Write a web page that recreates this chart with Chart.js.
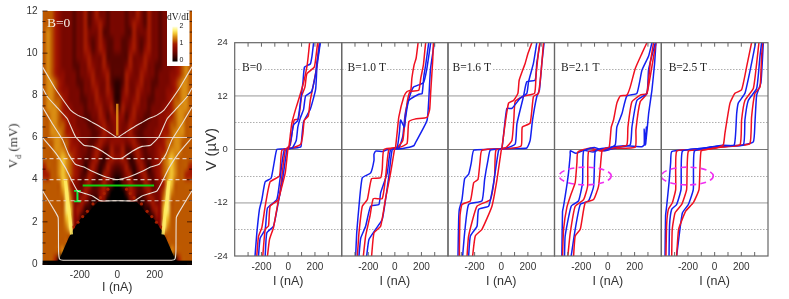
<!DOCTYPE html>
<html><head><meta charset="utf-8">
<script src="https://cdn.jsdelivr.net/npm/chart.js@4"></script>
<style>
html,body{margin:0;padding:0;background:#fff;width:789px;height:299px;overflow:hidden}
canvas{position:absolute;left:0;top:0}
.t{position:absolute;white-space:nowrap;color:#333;transform-origin:center center}
</style></head><body>
<div id="root"></div>
<script>
/* ---------- colour map panel (left) ---------- */
const heatLevels = ['#000000','#300100','#580400','#780700','#8e0c00','#a41a00','#bc5800','#d88a12','#f2c634','#fff27a','#ffffe8'];
/* half of the map (I = 10,30,...390 nA), rows from V = 11.8 down to 0.2 mV; mirrored about I = 0 */
const heatRows = [
"33233532533233345666","33235432533233345666","33225333533233345676","32235323533233345676",
"32245324533233345676","22253335433233345676","22353345332233345676","22543354332333445676",
"12533453322333456776","13533543323334456776","14434533223334566776","25335433233344567776",
"44245332233445567766","43354322333445667766","43453223334455677766","44345322334456677666",
"35224532334556777666","45312542234567876666","23521353134567876665","12451245224567876655",
"02353225423458866666","00254223533469766666","00034112453479666666","00000301145489666666",
"00000003114488666666","00000000032497666666","00000000002266666666","00000000000016666666",
"00000000000000766666","00000000000000005666"];
const gapEdgeI = [-318,-304,-260,-233,-197,-162,-104,104,162,197,233,260,304,318];
const gapEdgeV = [0.15,0.34,1.25,1.67,2.14,2.37,2.95,2.95,2.37,2.14,1.67,1.25,0.34,0.15];
const beadI = [50,70,90,130,160,185,210,235,-50,-70,-90,-130,-160,-185,-210,-235];
const beadV = [3.55,3.35,3.15,2.85,2.5,2.25,1.98,1.75,3.55,3.35,3.15,2.85,2.5,2.25,1.98,1.75];
const ridgeI = [-277,-267,-258,-250,-245];
const ridgeV = [3.95,3.1,2.5,1.9,1.4];
const centreRidgeI = [0,0], centreRidgeV = [6.1,7.6];

/* white V_d(I) curves: half, mirrored */
const wc1I=[0,45,90,130,170,210,250,295,330,370,400], wc1V=[6,6.25,6.5,6.7,6.9,7.05,7.3,7.85,8.3,8.9,9.35];
const wc2I=[0,27,80,133,178,224,268,320,373,400],     wc2V=[5,5.03,5.35,5.58,5.63,6.05,6.9,7.4,7.92,8.35];
const wc3I=[0,50,98,140,178,224,260,293,350,400],     wc3V=[4,4.1,4.26,4.42,4.6,4.73,5.2,5.9,6.7,7.45];
const wc4I=[0,90,133,175,213,240,277,330,400],        wc4V=[3,3,3.23,3.35,3.47,3.9,4.56,5.27,6.0];
const wc5I=[0,290,308,314,316,330,395,400],           wc5V=[0.18,0.18,0.22,0.6,2.2,2.45,3.4,3.5];
const dashLevels=[3,4,5], solidLevels=[6];
const greenBarI=[-185,197], greenBarV=[3.72,3.72];
const capI=[-213,-213], capV=[2.97,3.47], capHalf=18;
const heatXTicks=[-200,0,200], heatYTicks=[0,2,4,6,8,10,12];

/* I-V curves, [I (nA), V (uV)] */
const b0Red1=[[-155,-24],[-140,-20.3],[-110,-17.6],[-72,-11.3],[-22,-5.3],[-3,-0.2],[5,0.5],[15,3],[27,5.9],[55,9],[85,11.9],[115,15],[140,18.6],[150,21],[160,24]];
const b0Red2=[[-190,-24],[-172,-18],[-147,-17.2],[-135,-12.8],[-72,-11.3],[-47,-6],[-22,-0.2],[15,1],[30,4],[45,6.6],[75,6.8],[88,9],[100,12],[125,14],[140,17],[195,18.5],[208,21],[220,24]];
const b0Red3=[[-235,-24],[-222,-19.6],[-197,-17.6],[-172,-12.8],[-135,-7.3],[-65,-6],[-47,-0.2],[40,0.4],[95,1.2],[110,3.5],[120,6.5],[150,7.5],[165,11],[185,14],[210,18],[232,24]];
const b0Blue1=[[-172,-24],[-160,-18.8],[-110,-17.3],[-72,-11.6],[-40,-6.4],[-10,-0.2],[8,0.5],[25,3],[40,5.5],[70,6.4],[80,8],[95,11.5],[110,15],[122,18.5],[165,19.2],[178,21],[190,24]];
const b0Blue2=[[-222,-24],[-210,-20],[-172,-18],[-155,-13.2],[-85,-11.3],[-60,-6.4],[-30,-0.2],[30,0.3],[60,2],[72,5],[90,7],[115,9],[130,12],[175,13],[205,17],[215,19.5],[238,24]];
const b0Blue3=[[-248,-24],[-235,-19],[-215,-13.5],[-197,-11.3],[-172,-7.3],[-128,-6.5],[-105,-3],[-85,0],[-40,0.1],[50,0.3],[95,0.6],[100,2],[115,6.2],[165,9],[205,13.5],[215,18.5],[240,24]];

const b1Red1=[[-175,-24],[-157,-18.8],[-107,-17.3],[-70,-11.1],[-32,-5.3],[-3,-0.1],[5,0.4],[18,4],[30,7.3],[68,11.9],[92,13],[120,13.4],[128,16],[145,19],[160,20.5],[175,24]];
const b1Red2=[[-237,-24],[-220,-19.5],[-187,-15],[-162,-11.1],[-95,-11.1],[-70,-6.4],[-45,-0.1],[20,0.5],[60,2],[78,7],[95,11],[115,13],[180,13.3],[195,16],[215,19],[225,22],[232,24]];
const b1Red3=[[-282,-24],[-270,-18.8],[-245,-12.8],[-207,-11.3],[-175,-6.6],[-107,-6.4],[-95,-4.5],[-82,0],[40,0.5],[92,1.3],[105,6.2],[150,6.8],[242,7.2],[262,9],[270,13],[285,20],[290,24]];
const b1Blue1=[[-212,-24],[-195,-20.3],[-145,-18],[-95,-15.8],[-70,-11.3],[-45,-6],[-20,-0.1],[18,0.5],[35,4],[43,6.6],[72,5],[80,7],[105,11],[180,12.4],[205,12.5],[218,16.4],[232,19],[255,24]];
const b1Blue2=[[-270,-24],[-257,-20],[-220,-17.3],[-182,-12.8],[-120,-12.4],[-107,-9.8],[-57,-5.3],[-32,-0.1],[30,0.3],[60,3],[78,8],[112,12],[140,14],[215,15],[240,18],[270,24]];
const b1Blue3=[[-295,-24],[-287,-18.8],[-270,-12.8],[-245,-6.4],[-182,-5.3],[-157,-2.5],[-157,-1.1],[-145,-0.4],[-90,-0.5],[-60,-0.1],[60,0.2],[142,0.8],[157,1.6],[242,6.5],[255,11],[268,18],[297,24]];

const b2Red1=[[-215,-24],[-195,-19.5],[-145,-18],[-70,-12.8],[-32,-6.8],[0,-0.2],[5,0.3],[30,6],[55,10.4],[92,11],[125,12.6],[135,15.6],[180,19.4],[200,21.5],[230,24]];
const b2Red2=[[-257,-24],[-245,-19.5],[-182,-12.8],[-82,-11.3],[-50,-6],[-40,-0.2],[35,0.4],[80,2],[95,7],[105,10.8],[170,12],[250,12.6],[262,17],[280,22],[290,24]];
const b2Red3=[[-315,-24],[-310,-15],[-295,-12.4],[-232,-11.6],[-207,-7.5],[-175,-6.8],[-160,-3],[-145,-0.2],[60,0.2],[150,0.8],[158,5],[217,5.9],[242,11.9],[280,12.6],[305,19.4],[317,24]];
const b2Blue1=[[-245,-24],[-232,-19.5],[-182,-17.3],[-170,-13.5],[-95,-12.8],[-57,-7.5],[-20,-0.2],[5,0.3],[20,4],[42,9.2],[80,9.2],[142,11.5],[192,12.6],[205,15.2],[242,19.4],[267,24]];
const b2Blue2=[[-290,-24],[-275,-18.8],[-245,-12.4],[-145,-11.6],[-125,-6.8],[-100,-2.5],[-82,-0.2],[40,0.3],[105,1.2],[118,5.8],[167,11.9],[192,15.2],[255,15.6],[267,19.4],[292,24]];
const b2Blue3=[[-325,-24],[-320,-16],[-315,-13.5],[-295,-11.3],[-275,-6.6],[-245,-5.6],[-225,-3],[-207,-0.2],[-100,0],[100,0.2],[192,0.3],[217,2],[235,6.6],[267,11.9],[287,13.4],[305,19.4],[322,24]];

const b3Red1=[[-257,-24],[-245,-19.5],[-207,-18],[-170,-12],[-107,-11.3],[-70,-8.3],[-45,-0.4],[-20,0.2],[10,0.5],[25,5],[42,6.6],[67,10.4],[92,12],[142,12.2],[167,14],[205,18.2],[255,21.6],[292,24]];
const b3Red2=[[-300,-24],[-282,-18.8],[-245,-12.8],[-182,-11.3],[-152,-8.3],[-145,-0.5],[-60,-0.2],[60,0.4],[142,1],[150,5],[180,10.7],[242,12.2],[292,12.6],[317,19.4],[342,24]];
const b3Red3=[[-340,-24],[-332,-18],[-307,-13],[-275,-10],[-245,-7.5],[-232,-3],[-225,-0.6],[-130,0.3],[-50,-0.4],[40,0.2],[205,0.5],[210,4.4],[242,10.7],[292,12.5],[325,17.8],[360,24]];
const b3Blue1=[[-275,-24],[-245,-18],[-207,-12.4],[-145,-11.6],[-107,-8.3],[-95,-0.4],[-50,0.2],[0,0.1],[55,1],[67,5],[105,8],[142,12],[217,12.6],[255,17.8],[305,21],[330,24]];
const b3Blue2=[[-325,-24],[-320,-19.5],[-275,-12.8],[-220,-11.6],[-190,-7.5],[-182,-0.4],[-100,0.4],[-30,-0.3],[80,0.5],[167,1],[180,5],[217,11],[292,12.6],[305,18],[355,24]];
const b3Blue3=[[-345,-24],[-340,-14],[-332,-12.8],[-307,-8],[-295,-5.3],[-282,-1.2],[-282,-0.3],[-240,-0.9],[-180,-0.2],[-110,-0.6],[-40,0.2],[120,0.8],[255,0.6],[272,1],[272,4.6],[280,1],[288,5],[283,1.2],[305,8],[330,13.4],[350,19.4],[360,24]];

const b4Red1=[[-285,-24],[-270,-18],[-217,-13.9],[-160,-12],[-117,-9],[-102,-0.4],[-40,0.1],[30,0.5],[65,1],[77,3.6],[115,10.4],[152,12.6],[202,13.4],[240,18.6],[277,24]];
const b4Red2=[[-322,-24],[-318,-18],[-297,-14.3],[-247,-12.4],[-210,-9],[-197,-0.4],[-80,-0.1],[60,0.5],[190,1],[202,6.6],[227,11],[290,13.7],[315,19.4],[332,24]];
const b4Red3=[[-365,-24],[-360,-17],[-347,-13.5],[-317,-12],[-292,-9],[-285,-0.4],[-150,-0.1],[40,0.5],[180,0.9],[265,1.3],[277,7.3],[302,12.6],[340,14],[352,21],[360,24]];
const b4Blue1=[[-285,-24],[-242,-14.3],[-197,-12.4],[-160,-9],[-152,-0.4],[-40,0.4],[60,0.8],[147,1],[165,8],[177,10.4],[227,12.6],[277,19.4],[307,24]];
const b4Blue2=[[-342,-24],[-338,-17],[-322,-13.5],[-285,-12.4],[-252,-9],[-242,-0.4],[-100,0.2],[60,0.9],[215,1],[227,6.6],[252,11],[315,13.7],[340,21],[352,24]];
const b4Blue3=[[-372,-24],[-368,-15],[-360,-12.8],[-342,-7.5],[-330,-3],[-322,-0.5],[-200,-0.1],[40,0.7],[200,0.9],[290,1.7],[302,5.9],[315,12.2],[347,15],[365,24]];

const panelRed  = [[b0Red1,b0Red2,b0Red3],[b1Red1,b1Red2,b1Red3],[b2Red1,b2Red2,b2Red3],[b3Red1,b3Red2,b3Red3],[b4Red1,b4Red2,b4Red3]];
const panelBlue = [[b0Blue1,b0Blue2,b0Blue3],[b1Blue1,b1Blue2,b1Blue3],[b2Blue1,b2Blue2,b2Blue3],[b3Blue1,b3Blue2,b3Blue3],[b4Blue1,b4Blue2,b4Blue3]];
const panelLabels = ['B=0','B=1.0 T','B=1.6 T','B=2.1 T','B=2.5 T'];
const ivXTicks=[-200,0,200], ivYTicks=[-24,-12,0,12,24];
const ellipseCentreI=[null,null,null,-170,-205], ellipseCentreV=-6, ellipseRadiusI=195, ellipseRadiusV=2;

/* ---------- layout ---------- */
const W=789,H=299;
const panelLeft=[234.7,341.7,448,554.5,661.3], panelRight=[341.7,448,554.5,661.3,768];
const labelX=[242,347.5,452.5,561,668.7];
const SANS='"Liberation Sans",Arial,sans-serif', SERIF='"Liberation Serif","Times New Roman",serif';
Chart.defaults.font.family=SANS;
const root=document.getElementById('root');
function mk(){const c=document.createElement('canvas');c.width=W;c.height=H;root.appendChild(c);return c.getContext('2d');}
const range=(a,b,s)=>{const r=[];for(let v=a;v<=b+1e-9;v+=s)r.push(v);return r;};

/* ---------- heat map ---------- */
const heatPlugin={id:'heat',
 beforeDatasetsDraw(ch){
  const {ctx,chartArea:a,scales:{x,y}}=ch;
  const nr=heatRows.length,nc=heatRows[0].length*2;
  const off=document.createElement('canvas');off.width=nc;off.height=nr;
  const o=off.getContext('2d');
  heatRows.forEach((row,r)=>{
    const right=row.split('');const all=right.slice().reverse().concat(right);
    all.forEach((d,c)=>{o.fillStyle=heatLevels[parseInt(d,16)];o.fillRect(c,r,1,1);});
  });
  ctx.save();ctx.beginPath();ctx.rect(a.left,a.top,a.width,a.height);ctx.clip();
  ctx.fillStyle='#000';ctx.fillRect(a.left,a.top,a.width,a.height);
  ctx.imageSmoothingEnabled=true;ctx.imageSmoothingQuality='high';
  const x0=x.getPixelForValue(-400),x1=x.getPixelForValue(400),y0=y.getPixelForValue(12),y1=y.getPixelForValue(0);
  ctx.drawImage(off,x0,y0,x1-x0,y1-y0);
  /* the black gap region */
  ctx.fillStyle='#000';ctx.beginPath();
  gapEdgeI.forEach((v,i)=>{const px=x.getPixelForValue(v),py=y.getPixelForValue(gapEdgeV[i]);i?ctx.lineTo(px,py):ctx.moveTo(px,py);});
  ctx.closePath();ctx.fill();
  ctx.fillRect(a.left,y.getPixelForValue(0.16),a.width,a.bottom-y.getPixelForValue(0.16));
  ctx.restore();
 },
 afterDatasetsDraw(ch){
  const {ctx,chartArea:a,scales:{x,y}}=ch;
  ctx.save();
  /* inward ticks */
  ctx.strokeStyle='rgba(40,10,0,.75)';ctx.lineWidth=1;
  range(0,12,0.5).forEach(v=>{const py=y.getPixelForValue(v),l=(v%2===0)?5:3;
    ctx.beginPath();ctx.moveTo(a.left,py);ctx.lineTo(a.left+l,py);ctx.moveTo(a.right,py);ctx.lineTo(a.right-l,py);ctx.stroke();});
  /* B label */
  ctx.fillStyle='#f6efe4';ctx.font='13.5px '+SERIF;ctx.textAlign='left';ctx.textBaseline='alphabetic';
  ctx.fillText('B=0',47,27);
  /* colour bar */
  ctx.fillStyle='#fff';ctx.fillRect(167,10.5,22.5,55.5);
  const g=ctx.createLinearGradient(0,61.5,0,26.5);
  heatLevels.forEach((c,i)=>g.addColorStop(i/(heatLevels.length-1),c));
  ctx.fillStyle=g;ctx.fillRect(172.5,26.5,5,35);
  ctx.fillStyle='#222';ctx.font='9.5px '+SERIF;ctx.textAlign='center';ctx.fillText('dV/dI',178,20);
  ctx.font='7px '+SANS;ctx.textAlign='left';ctx.textBaseline='middle';
  ctx.fillText('2',179.5,26.5);ctx.fillText('1',179.5,43.5);ctx.fillText('0',179.5,60.5);
  ctx.restore();
 }};
const pairs=(a,b)=>a.map((v,i)=>({x:v,y:b[i]}));
const mirror=(I,V)=>{const out=[];for(let i=I.length-1;i>0;i--)out.push({x:-I[i],y:V[i]});I.forEach((v,i)=>out.push({x:v,y:V[i]}));return out;};
const wl={type:'scatter',showLine:true,pointRadius:0,borderColor:'#eadfd6',borderWidth:1.1,tension:0.15,fill:false};
const heatDatasets=[];
/* bright ridges */
[1,-1].forEach(s=>heatDatasets.push({type:'scatter',showLine:true,pointRadius:0,borderColor:'rgba(255,236,100,.85)',borderWidth:3.2,tension:0.2,data:pairs(ridgeI.map(v=>s*v),ridgeV)}));
heatDatasets.push({type:'scatter',showLine:true,pointRadius:0,borderColor:'rgba(225,140,20,.9)',borderWidth:2.4,data:pairs(centreRidgeI,centreRidgeV)});
dashLevels.forEach(v=>heatDatasets.push({...wl,tension:0,borderColor:'rgba(240,225,215,.85)',borderDash:[4,3],data:[{x:-400,y:v},{x:400,y:v}]}));
solidLevels.forEach(v=>heatDatasets.push({...wl,tension:0,borderColor:'rgba(240,225,215,.85)',data:[{x:-400,y:v},{x:400,y:v}]}));
[[wc1I,wc1V],[wc2I,wc2V],[wc3I,wc3V],[wc4I,wc4V],[wc5I,wc5V]].forEach(([i,v])=>heatDatasets.push({...wl,data:mirror(i,v)}));
heatDatasets.push({type:'scatter',showLine:false,pointRadius:1.6,pointBorderWidth:0,backgroundColor:'#a82000',data:pairs(beadI,beadV)});
heatDatasets.push({type:'scatter',showLine:true,pointRadius:0,borderColor:'#10d010',borderWidth:2,data:pairs(greenBarI,greenBarV)});
const cap=pairs(capI,capV);
heatDatasets.push({type:'scatter',showLine:true,pointRadius:0,borderColor:'#10f040',borderWidth:2,data:cap});
[capV[0],capV[1]].forEach(v=>heatDatasets.push({type:'scatter',showLine:true,pointRadius:0,borderColor:'#10f040',borderWidth:1.6,data:[{x:capI[0]-capHalf,y:v},{x:capI[0]+capHalf,y:v}]}));

new Chart(mk(),{type:'scatter',plugins:[heatPlugin],
 data:{datasets:heatDatasets},
 options:{responsive:false,animation:false,events:[],
  layout:{padding:{left:12,right:W-192,top:8,bottom:H-295}},
  plugins:{legend:{display:false},tooltip:{enabled:false}},
  scales:{
   x:{type:'linear',min:-400,max:400,afterBuildTicks:s=>{s.ticks=heatXTicks.map(value=>({value}));},
      afterFit:s=>{s.height=30;},
      grid:{display:false,drawTicks:false,tickLength:0},border:{display:false},
      ticks:{color:'#333',font:{size:10},padding:4,autoSkip:false,maxRotation:0},
      title:{display:true,text:'I (nA)',color:'#333',font:{size:12.5},padding:0}},
   y:{type:'linear',min:-0.047,max:12,afterBuildTicks:s=>{s.ticks=heatYTicks.map(value=>({value}));},
      afterFit:s=>{s.width=30.5;},
      grid:{display:false,drawTicks:false,tickLength:0},border:{display:false},
      ticks:{color:'#333',font:{size:10},padding:5}}
  }}});

/* ---------- I-V panels ---------- */
const ivPlugin=(idx)=>({id:'iv'+idx,
 beforeDatasetsDraw(ch){
  const {ctx}=ch;ctx.save();
  ctx.font='11.5px '+SERIF;const txt=panelLabels[idx];const w=ctx.measureText(txt).width;
  ctx.fillStyle='#fff';ctx.fillRect(labelX[idx]-2,60,w+3,13);
  ctx.fillStyle='#222';ctx.textAlign='left';ctx.textBaseline='alphabetic';ctx.fillText(txt,labelX[idx],71);
  ctx.restore();
 },
 afterDatasetsDraw(ch){
  const {ctx,chartArea:a,scales:{x,y}}=ch;ctx.save();
  if(ellipseCentreI[idx]!==null){
    ctx.strokeStyle='#f030f0';ctx.lineWidth=1.6;ctx.setLineDash([6,4]);
    const cx=x.getPixelForValue(ellipseCentreI[idx]),cy=y.getPixelForValue(ellipseCentreV);
    const rx=Math.abs(x.getPixelForValue(ellipseRadiusI)-x.getPixelForValue(0)),ry=Math.abs(y.getPixelForValue(ellipseRadiusV)-y.getPixelForValue(0));
    ctx.beginPath();ctx.ellipse(cx,cy,rx,ry,0,0,Math.PI*2);ctx.stroke();ctx.setLineDash([]);
  }
  ctx.strokeStyle='#666';ctx.lineWidth=1;
  range(-300,300,100).forEach(v=>{const px=x.getPixelForValue(v);
    ctx.beginPath();ctx.moveTo(px,a.top);ctx.lineTo(px,a.top+4);ctx.moveTo(px,a.bottom);ctx.lineTo(px,a.bottom-4);ctx.stroke();});
  ctx.lineWidth=1.2;ctx.strokeRect(a.left,a.top,a.width,a.height);
  ctx.restore();
 }});
panelLabels.forEach((lab,idx)=>{
 const first=idx===0;
 const ds=[];
 panelRed[idx].forEach((c,i)=>{
   ds.push({label:'up'+i,showLine:true,pointRadius:0,borderColor:'#f01020',borderWidth:1.5,tension:0.15,fill:false,data:c.map(p=>({x:p[0],y:p[1]}))});
   ds.push({label:'down'+i,showLine:true,pointRadius:0,borderColor:'#1420f0',borderWidth:1.5,tension:0.15,fill:false,data:panelBlue[idx][i].map(p=>({x:p[0],y:p[1]}))});
 });
 new Chart(mk(),{type:'scatter',plugins:[ivPlugin(idx)],
  data:{datasets:ds},
  options:{responsive:false,animation:false,events:[],
   layout:{padding:{left:first?203:panelLeft[idx],right:W-panelRight[idx],top:42.7,bottom:10}},
   plugins:{legend:{display:false},tooltip:{enabled:false}},
   scales:{
    x:{type:'linear',min:-400,max:400,afterBuildTicks:s=>{s.ticks=ivXTicks.map(value=>({value}));},
       afterFit:s=>{s.height=33;},grid:{display:false,drawTicks:false,tickLength:0},border:{display:false},
       ticks:{color:'#333',font:{size:10},padding:5,autoSkip:false,maxRotation:0},
       title:{display:true,text:'I (nA)',color:'#333',font:{size:12.5},padding:0}},
    y:{type:'linear',min:-24,max:24,
       afterBuildTicks:s=>{s.ticks=range(-24,24,6).map(value=>({value}));},
       afterFit:s=>{s.width=first?31.7:0;},
       grid:{drawTicks:false,
         color:c=>{const v=c.tick.value;return v===0?'#777':(Math.abs(v)===12?'#c4c4c4':'#9a9a9a');},
         lineWidth:c=>{const v=c.tick.value;return Math.abs(v)===24?0:(Math.abs(v)===12?1.8:(v===0?1:0.8));}},
       border:{display:false,dash:c=>{const v=c.tick&&c.tick.value;return (Math.abs(v)===6||Math.abs(v)===18)?[1.5,1.5]:[];}},
       ticks:{display:first,color:'#333',font:{size:9.5},padding:7,autoSkip:false,
              callback:v=>ivYTicks.includes(v)?String(v):''},
       title:{display:first,text:'V (µV)',color:'#333',font:{size:15},padding:0}}
   }}});
});
</script>
<div class="t" style="left:-9px;top:135px;width:50px;text-align:center;transform:rotate(-90deg);font:13px 'Liberation Serif',serif;line-height:16px">V<sub style="font-size:8px">d</sub> (mV)</div>
</body></html>
